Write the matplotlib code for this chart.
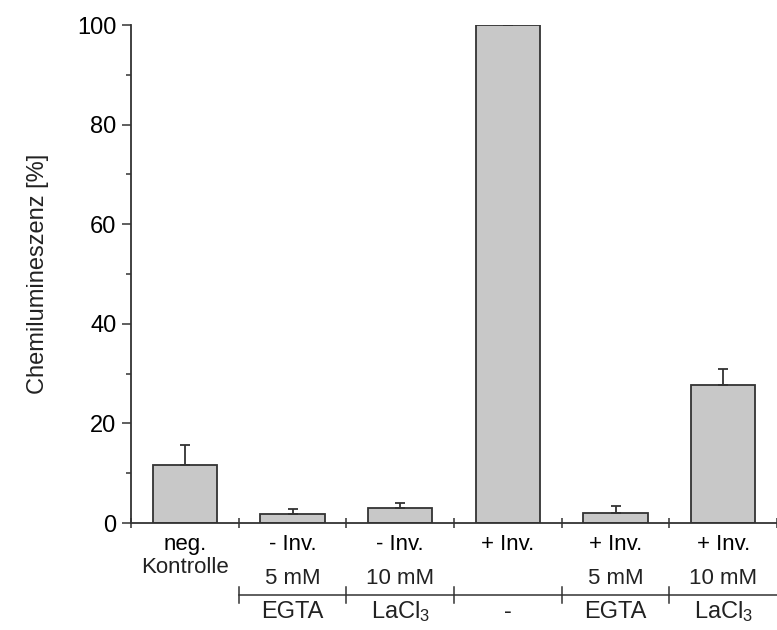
import matplotlib
matplotlib.use("Agg")
import matplotlib.pyplot as plt
import matplotlib.transforms as mtransforms
import numpy as np

plt.rcParams['font.family'] = ['Liberation Sans', 'DejaVu Sans']
plt.rcParams['mathtext.fontset'] = 'custom'
plt.rcParams['mathtext.rm'] = 'Liberation Sans'
plt.rcParams['mathtext.it'] = 'Liberation Sans'
plt.rcParams['mathtext.default'] = 'regular'

# Daten
zeile1 = ['neg.', '- Inv.', '- Inv.', '+ Inv.', '+ Inv.', '+ Inv.']
zeile2 = ['Kontrolle', '', '', '', '', '']
konzentration = ['', '5 mM', '10 mM', '', '5 mM', '10 mM']
substanz = ['', 'EGTA', r'LaCl$_3$', '-', 'EGTA', r'LaCl$_3$']
werte = [11.6, 1.9, 2.95, 100.0, 2.1, 27.8]
fehler = [4.0, 1.0, 1.15, 0.1, 1.4, 3.1]

dunkel = '#333333'
x = np.arange(len(werte))

fig = plt.figure(figsize=(7.77, 6.3), dpi=100)
ax = fig.add_axes([131/777, 1 - 523/630, 1 - 131/777, (523 - 25)/630])

ax.bar(x, werte, width=0.6, color='#c8c8c8', edgecolor=dunkel, linewidth=1.3, zorder=2)
ax.errorbar(x, werte, yerr=[np.zeros(len(fehler)), fehler], fmt='none',
            ecolor=dunkel, elinewidth=1.3, capsize=3.6, capthick=1.3, zorder=3)

ax.set_xlim(-0.5, (777 - 131)/109 - 0.5)
ax.set_ylim(0, 100)

for s in ['top', 'right']:
    ax.spines[s].set_visible(False)
for s in ['left', 'bottom']:
    ax.spines[s].set_color(dunkel)
    ax.spines[s].set_linewidth(1.3)

# y-Achse
ax.set_yticks(np.arange(0, 101, 20))
ax.set_yticks(np.arange(10, 100, 20), minor=True)
ax.tick_params(axis='y', which='major', direction='out', length=6.5, width=1.1,
               color=dunkel, labelsize=17, pad=4)
ax.tick_params(axis='y', which='minor', direction='out', length=3.6, width=1.1, color=dunkel)
ax.set_ylabel('Chemilumineszenz [%]', fontsize=17, labelpad=20, color='#222222')

# x-Achse
ax.set_xticks(x)
ax.set_xticklabels(zeile1)
ax.set_xticks(np.arange(-0.5, len(werte), 1.0), minor=True)
ax.tick_params(axis='x', which='major', direction='in', length=2.5, width=1.1,
               color=dunkel, labelsize=16, pad=8)
ax.tick_params(axis='x', which='minor', direction='inout', length=7, width=1.1, color=dunkel)

trans = mtransforms.blended_transform_factory(ax.transData, ax.transAxes)
for i in x:
    if zeile2[i]:
        ax.text(i, -0.09, zeile2[i], transform=trans, ha='center', va='center', fontsize=16,
                color='#222222')
    if konzentration[i]:
        ax.text(i, -0.112, konzentration[i], transform=trans, ha='center', va='center',
                fontsize=16, color='#222222')
    if substanz[i]:
        ax.text(i, -0.178, substanz[i], transform=trans, ha='center', va='center',
                fontsize=17, color='#222222')

# Gruppenlinie
xr = ax.get_xlim()[1]
ax.plot([0.5, xr], [-0.1446, -0.1446], transform=trans, color=dunkel, lw=1.1, clip_on=False)
for g in np.arange(0.5, len(werte) - 0.5, 1.0):
    ax.plot([g, g], [-0.1285, -0.1606], transform=trans, color=dunkel, lw=1.1, clip_on=False)

fig.savefig('out.png', dpi=100)
